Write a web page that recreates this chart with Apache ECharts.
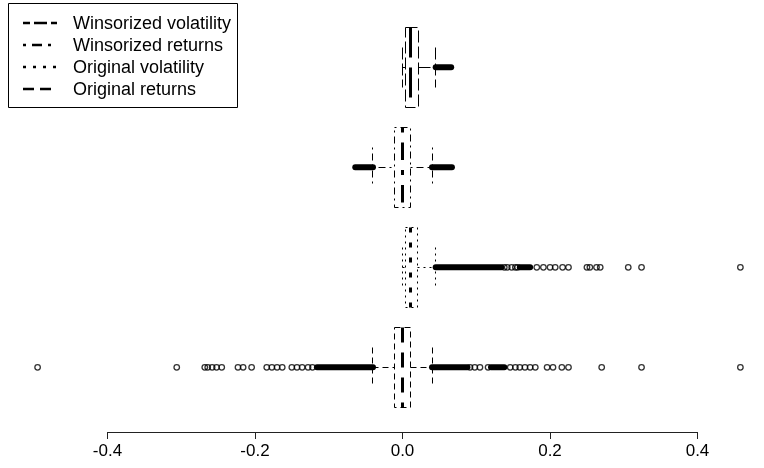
<!DOCTYPE html>
<html>
<head>
<meta charset="utf-8">
<script src="https://cdn.jsdelivr.net/npm/echarts@6/dist/echarts.min.js"></script>
<style>
  html, body { margin: 0; padding: 0; background: #fff; }
  #main { width: 764px; height: 468px; }
</style>
</head>
<body>
<div id="main"></div>
<script>
// groups from bottom (position 1) to top (position 4)
const groups = ['Original returns', 'Original volatility', 'Winsorized returns', 'Winsorized volatility'];

// [lower whisker, Q1, median, Q3, upper whisker]
const boxStats = [
  [-0.0404, -0.0102, 0.0003, 0.0111, 0.0404],
  [0.0003, 0.0043, 0.0106, 0.0208, 0.0450],
  [-0.0404, -0.0102, 0.0003, 0.0111, 0.0404],
  [0.0003, 0.0043, 0.0106, 0.0212, 0.0450]
];

// stretches where the outlier circles overlap into a solid bar: [from, to]
const denseRuns = [
  [[-0.116, -0.040], [0.040, 0.088], [0.120, 0.138]],
  [[0.045, 0.134], [0.159, 0.173]],
  [[-0.064, -0.040], [0.040, 0.067]],
  [[0.045, 0.066]]
];

// single outliers that can be told apart
const outliers = [
  [-0.4946, -0.306, -0.268, -0.264, -0.258, -0.252, -0.245, -0.223, -0.216, -0.2045,
   -0.184, -0.177, -0.170, -0.163, -0.150, -0.143, -0.136, -0.128, -0.122,
   0.0915, 0.098, 0.105, 0.116, 0.146, 0.153, 0.159, 0.166, 0.173, 0.180,
   0.196, 0.204, 0.216, 0.225, 0.270, 0.324, 0.458],
  [0.138, 0.142, 0.148, 0.153, 0.156, 0.182, 0.191, 0.200, 0.207, 0.217, 0.225,
   0.250, 0.254, 0.263, 0.268, 0.306, 0.324, 0.458],
  [],
  []
];

const tickValues = [-0.4, -0.2, 0.0, 0.2, 0.4];

// line type per group (R lty: dashed, dotted, dotdash, longdash)
const dashes = {
  'Original returns': [6, 4],
  'Original volatility': [2, 4],
  'Winsorized returns': [2, 4, 7, 4],
  'Winsorized volatility': [12, 4]
};
const legendDashes = {
  'Winsorized volatility': { dash: [13, 4], offset: 6 },
  'Winsorized returns': { dash: [3, 6, 10, 6], offset: 0 },
  'Original volatility': { dash: [3, 7], offset: 0 },
  'Original returns': { dash: [11, 6], offset: 0 }
};

const FONT = 'Liberation Sans, Arial, sans-serif';

// snap to pixel centres so thin dashed lines stay crisp
function px(v) { return Math.round(v - 0.5) + 0.5; }

function boxRenderer(dash) {
  return function (params, api) {
    const pos = api.value(0);
    const lo = px(api.coord([api.value(1), pos])[0]);
    const q1 = px(api.coord([api.value(2), pos])[0]);
    const md = px(api.coord([api.value(3), pos])[0]);
    const q3 = px(api.coord([api.value(4), pos])[0]);
    const hi = px(api.coord([api.value(5), pos])[0]);
    const y = px(api.coord([0, pos])[1]);
    const half = Math.round(api.size([0, 0.4])[1]);
    const st = Math.round(api.size([0, 0.2])[1]);
    const s = { stroke: '#000', fill: 'none', lineWidth: 1, lineDash: dash };
    return {
      type: 'group',
      children: [
        { type: 'rect', shape: { x: q1, y: y - half, width: q3 - q1, height: 2 * half }, style: s },
        { type: 'line', shape: { x1: md, y1: y - half, x2: md, y2: y + half },
          style: { stroke: '#000', lineWidth: 3, lineDash: dash.map(d => d * 2.5) } },
        { type: 'line', shape: { x1: lo, y1: y, x2: q1, y2: y }, style: s },
        { type: 'line', shape: { x1: q3, y1: y, x2: hi, y2: y }, style: s },
        { type: 'line', shape: { x1: lo, y1: y - st, x2: lo, y2: y + st }, style: s },
        { type: 'line', shape: { x1: hi, y1: y - st, x2: hi, y2: y + st }, style: s }
      ]
    };
  };
}

function runRenderer(params, api) {
  const a = api.coord([api.value(0), api.value(2)]);
  const b = api.coord([api.value(1), api.value(2)]);
  return {
    type: 'line',
    shape: { x1: a[0], y1: a[1], x2: b[0], y2: b[1] },
    style: { stroke: '#000', lineWidth: 6, lineCap: 'round' }
  };
}

const series = [];
groups.forEach(function (name, i) {
  const pos = i + 1;
  series.push({
    name: name,
    type: 'custom',
    xAxisIndex: 0, yAxisIndex: 0,
    renderItem: boxRenderer(dashes[name]),
    data: [[pos].concat(boxStats[i])],
    silent: true
  });
  series.push({
    name: name + ' dense',
    type: 'custom',
    xAxisIndex: 0, yAxisIndex: 0,
    renderItem: runRenderer,
    data: denseRuns[i].map(r => [r[0], r[1], pos]),
    silent: true
  });
  series.push({
    name: name + ' outliers',
    type: 'scatter',
    xAxisIndex: 0, yAxisIndex: 0,
    symbol: 'circle',
    symbolSize: 5.5,
    itemStyle: { color: 'rgba(0,0,0,0)', borderColor: '#000', borderWidth: 1.3 },
    data: outliers[i].map(v => [v, pos]),
    silent: true
  });
});

// legend drawn by hand so the line types show
const legendOrder = ['Winsorized volatility', 'Winsorized returns', 'Original volatility', 'Original returns'];
const legendItems = [
  { type: 'rect', shape: { x: 8.5, y: 3.5, width: 229, height: 104 },
    style: { fill: '#fff', stroke: '#000', lineWidth: 1 } }
];
legendOrder.forEach(function (name, i) {
  const y = 23 + i * 22;
  legendItems.push({
    type: 'line', shape: { x1: 23, y1: y, x2: 57, y2: y },
    style: { stroke: '#000', lineWidth: 2.5, lineDash: legendDashes[name].dash,
             lineDashOffset: legendDashes[name].offset }
  });
  legendItems.push({
    type: 'text', x: 73, y: y + 1,
    style: { text: name, fill: '#000', font: '18px ' + FONT, textVerticalAlign: 'middle' }
  });
});

const chart = echarts.init(document.getElementById('main'));
chart.setOption({
  animation: false,
  backgroundColor: '#fff',
  grid: [
    { left: 10, right: 0, top: 0, bottom: 36 },
    { left: 107.5, right: 66.5, bottom: 36, height: 1 }
  ],
  xAxis: [
    { gridIndex: 0, type: 'value', min: -0.532, max: 0.490, show: false },
    {
      gridIndex: 1, type: 'value', position: 'bottom',
      min: tickValues[0], max: tickValues[tickValues.length - 1], interval: 0.2,
      axisLine: { show: true, lineStyle: { color: '#222', width: 1 } },
      axisTick: { show: true, length: 7, lineStyle: { color: '#222' } },
      axisLabel: { fontSize: 17, color: '#000', fontFamily: FONT, margin: 11,
                   formatter: v => v.toFixed(1) },
      splitLine: { show: false }
    }
  ],
  yAxis: [
    { gridIndex: 0, type: 'value', min: 0.353, max: 4.673, show: false },
    { gridIndex: 1, type: 'value', show: false }
  ],
  graphic: legendItems,
  series: series
});
</script>
</body>
</html>
